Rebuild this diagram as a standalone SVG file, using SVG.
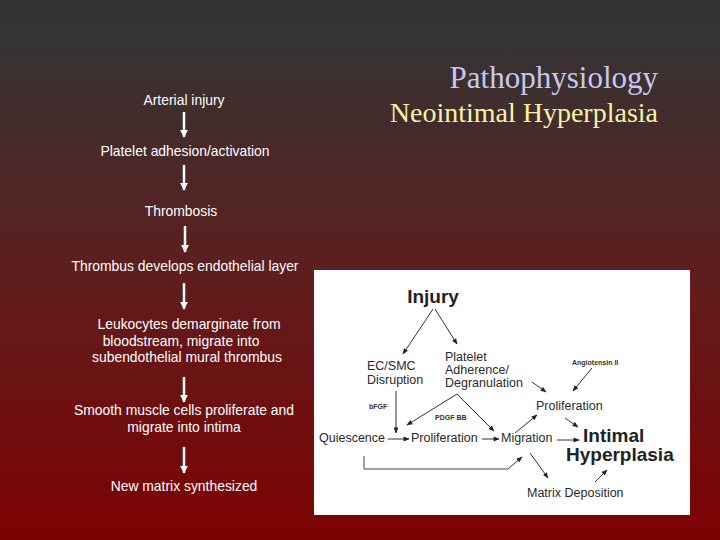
<svg xmlns="http://www.w3.org/2000/svg" width="720" height="540" viewBox="0 0 720 540">
<defs>
<linearGradient id="bg" x1="0" y1="0" x2="0" y2="1">
<stop offset="0" stop-color="#333333"/>
<stop offset="0.08" stop-color="#363333"/>
<stop offset="0.5" stop-color="#5e1e1e"/>
<stop offset="1" stop-color="#7e0202"/>
</linearGradient>
<marker id="wa" viewBox="0 0 10 10" refX="9" refY="5" markerWidth="3.2" markerHeight="3.2" orient="auto" markerUnits="strokeWidth">
<path d="M0,0 L10,5 L0,10 Z" fill="#ffffff"/>
</marker>
<marker id="ka" viewBox="0 0 10 10" refX="9" refY="5" markerWidth="7" markerHeight="6" orient="auto" markerUnits="userSpaceOnUse">
<path d="M0,1 L10,5 L0,9 Z" fill="#222222"/>
</marker>
<style>
.lt{font-family:"Liberation Sans",Arial,sans-serif;font-size:13.9px;fill:#ffffff;text-anchor:middle}
.wl{stroke:#ffffff;stroke-width:2.5;fill:none;marker-end:url(#wa)}
.ft{font-family:"Liberation Sans",Arial,sans-serif;font-size:12.5px;fill:#2a2a2a}
.fs{font-family:"Liberation Sans",Arial,sans-serif;font-size:7px;fill:#333333;font-weight:bold}
.fb{font-family:"Liberation Sans",Arial,sans-serif;font-weight:bold;fill:#222222}
.kl{stroke:#333333;stroke-width:1;fill:none;marker-end:url(#ka)}
.pl{stroke:#444444;stroke-width:1;fill:none}
</style>
</defs>
<rect x="0" y="0" width="720" height="540" fill="url(#bg)"/>

<g id="title">
<text x="658" y="88" font-family="'Liberation Serif','Times New Roman',serif" font-size="31" fill="#c8c8ee" text-anchor="end">Pathophysiology</text>
<text x="658" y="122" font-family="'Liberation Serif','Times New Roman',serif" font-size="28" fill="#f4f4a8" text-anchor="end">Neointimal Hyperplasia</text>
</g>

<g id="n1"><text class="lt" x="184" y="105">Arterial injury</text></g>
<g id="n2"><text class="lt" x="185" y="156">Platelet adhesion/activation</text></g>
<g id="n3"><text class="lt" x="181" y="216">Thrombosis</text></g>
<g id="n4"><text class="lt" x="185" y="271">Thrombus develops endothelial layer</text></g>
<g id="n5"><text class="lt" x="189" y="329">Leukocytes demarginate from</text><text class="lt" x="181" y="346">bloodstream, migrate into</text><text class="lt" x="187" y="362">subendothelial mural thrombus</text></g>
<g id="n6"><text class="lt" x="184" y="415">Smooth muscle cells proliferate and</text><text class="lt" x="184" y="432">migrate into intima</text></g>
<g id="n7"><text class="lt" x="184" y="491">New matrix synthesized</text></g>

<g id="left-connectors">
<line class="wl" x1="184" y1="112" x2="184" y2="137"/>
<line class="wl" x1="184" y1="165" x2="184" y2="190"/>
<line class="wl" x1="185" y1="226" x2="185" y2="252"/>
<line class="wl" x1="184" y1="283" x2="184" y2="309"/>
<line class="wl" x1="184" y1="377" x2="184" y2="402"/>
<line class="wl" x1="184" y1="447" x2="184" y2="473"/>
</g>

<g id="figure">
<rect x="314" y="270" width="376" height="245" fill="#ffffff"/>
<g id="f-injury"><text class="fb" x="433" y="303" font-size="19" text-anchor="middle">Injury</text></g>
<g id="f-ecsmc"><text class="ft" x="367" y="370">EC/SMC</text><text class="ft" x="367" y="384">Disruption</text></g>
<g id="f-platelet"><text class="ft" x="445" y="361">Platelet</text><text class="ft" x="445" y="374">Adherence/</text><text class="ft" x="445" y="387">Degranulation</text></g>
<g id="f-angio"><text class="fs" x="572" y="365">Angiotensin II</text></g>
<g id="f-bfgf"><text class="fs" x="369" y="409">bFGF</text></g>
<g id="f-pdgf"><text class="fs" x="435" y="420">PDGF BB</text></g>
<g id="f-prolif2"><text class="ft" x="536" y="410">Proliferation</text></g>
<g id="f-quies"><text class="ft" x="319" y="442">Quiescence</text></g>
<g id="f-prolif1"><text class="ft" x="411" y="442">Proliferation</text></g>
<g id="f-migr"><text class="ft" x="501" y="442">Migration</text></g>
<g id="f-intimal"><text class="fb" x="583" y="442" font-size="19">Intimal</text><text class="fb" x="566" y="461" font-size="19">Hyperplasia</text></g>
<g id="f-matrix"><text class="ft" x="527" y="497">Matrix Deposition</text></g>

<g id="f-connectors">
<line class="kl" x1="433" y1="309" x2="403" y2="354"/>
<line class="kl" x1="435" y1="309" x2="457" y2="344"/>
<line class="kl" x1="532" y1="382" x2="546" y2="392"/>
<line class="kl" x1="592" y1="368" x2="573" y2="391"/>
<line class="kl" x1="396" y1="391" x2="396" y2="433"/>
<line class="kl" x1="457" y1="394" x2="407" y2="425"/>
<line class="kl" x1="457" y1="394" x2="494" y2="431"/>
<line class="kl" x1="388" y1="439" x2="409" y2="439"/>
<line class="kl" x1="482" y1="439" x2="499" y2="439"/>
<line class="kl" x1="557" y1="440" x2="579" y2="440"/>
<line class="kl" x1="515" y1="433" x2="537" y2="415"/>
<line class="kl" x1="565" y1="418" x2="578" y2="427"/>
<line class="kl" x1="530" y1="453" x2="548" y2="478"/>
<line class="kl" x1="595" y1="482" x2="607" y2="470"/>
<polyline class="pl" points="364,456 364,469 508,469"/>
<line class="kl" x1="508" y1="469" x2="522" y2="457"/>
</g>
</g>
</svg>
